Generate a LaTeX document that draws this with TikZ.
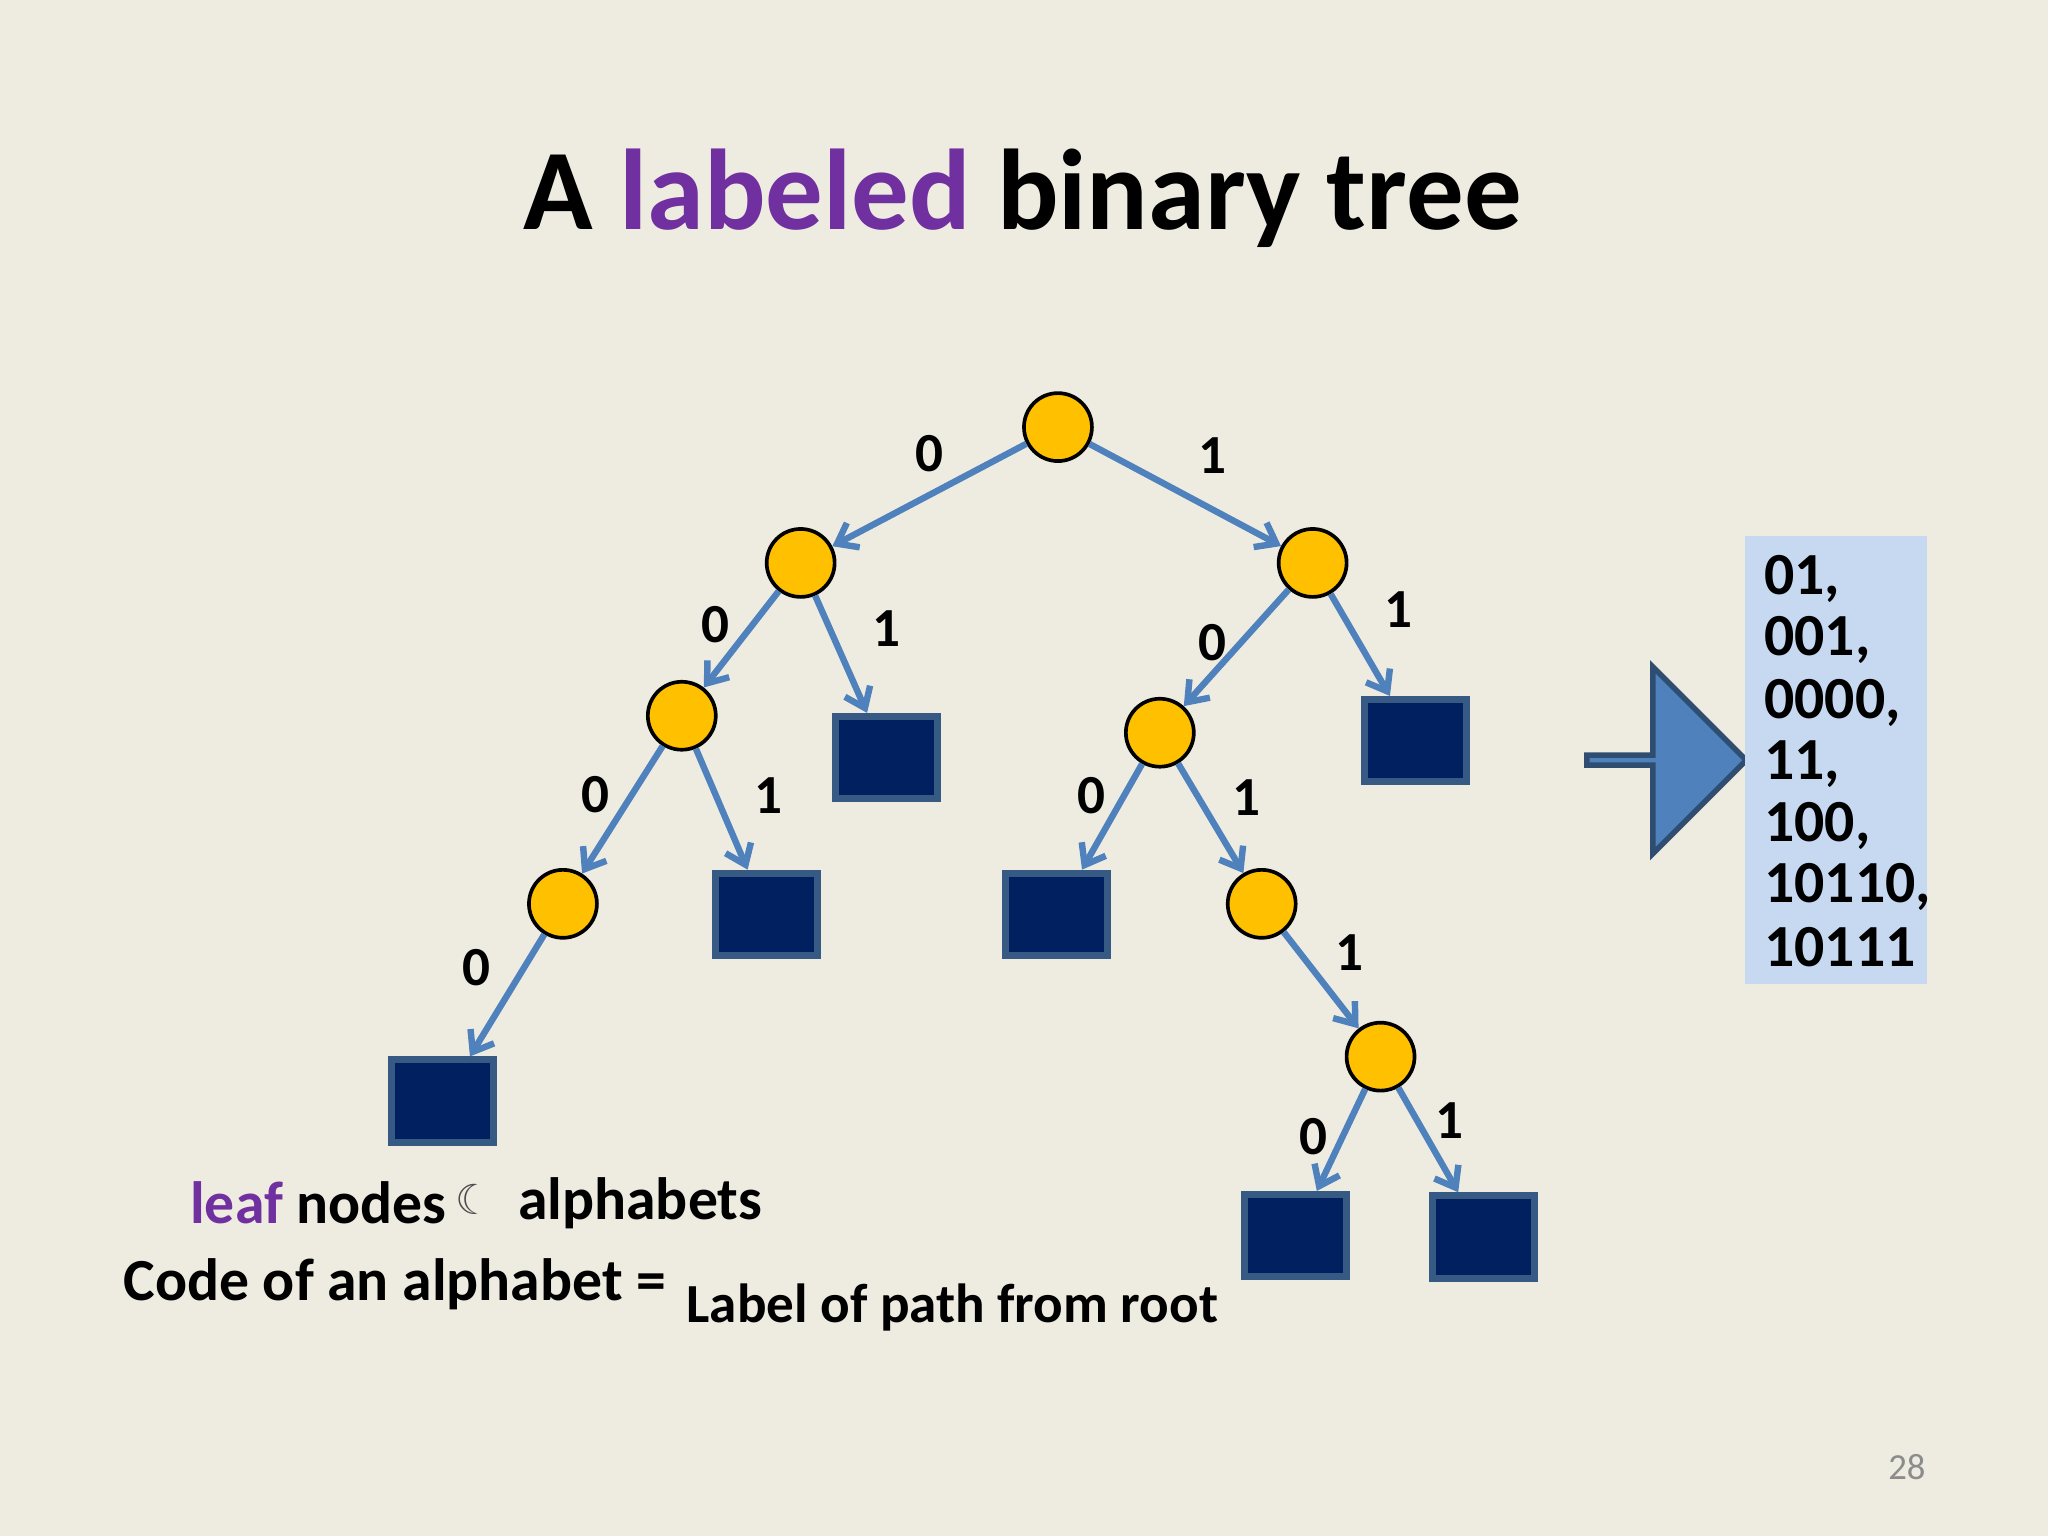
\documentclass[tikz,border=0pt]{standalone}
\usepackage{fontspec}
\setmainfont{Carlito}
\newfontfamily\symf{DejaVu Sans}
\usetikzlibrary{arrows.meta,shapes.arrows}
\definecolor{bg}{HTML}{EEECE1}
\definecolor{edge}{HTML}{4F81BD}
\definecolor{gold}{HTML}{FFC000}
\definecolor{navy}{HTML}{002060}
\definecolor{purp}{HTML}{7030A0}
\definecolor{boxb}{HTML}{C6D9F1}
\begin{document}
\begin{tikzpicture}[x=0.01cm,y=-0.01cm,
  inner/.style={circle,draw=black,line width=0.8pt,fill=gold,minimum size=0.52cm,inner sep=0pt},
  leaf/.style={rectangle,draw=edge!70!black,line width=1.5pt,fill=navy,minimum width=0.78cm,minimum height=0.63cm,inner sep=0pt},
  e/.style={draw=edge,line width=1.4pt,-{Straight Barb[length=4pt,width=6pt]}},
  lab/.style={font=\bfseries\fontsize{12}{14}\selectfont},
  txt/.style={font=\bfseries\fontsize{13}{16}\selectfont,anchor=west,inner sep=0pt}]
\fill[bg] (0,0) rectangle (1568,1176);
\useasboundingbox (0,0) rectangle (1568,1176);
\node[font=\bfseries\fontsize{25}{30}\selectfont] (title) at (783,152) {A \textcolor{purp}{labeled} binary tree};
\node[inner] (r) at (810,327) {};
\node[inner] (a) at (613,431) {};
\node[inner] (b) at (1005,431) {};
\node[inner] (aa) at (522,548) {};
\node[leaf] (ab) at (679,580) {};
\node[inner] (ba) at (888,561) {};
\node[leaf] (bb) at (1084,567) {};
\node[inner] (aaa) at (431,692) {};
\node[leaf] (aab) at (587,700) {};
\node[leaf] (baa) at (809,700) {};
\node[inner] (bab) at (966,692) {};
\node[leaf] (aaaa) at (339,843) {};
\node[inner] (babb) at (1057,809) {};
\node[leaf] (x0) at (992,946) {};
\node[leaf] (x1) at (1136,947) {};
\draw[e] (r) -- (a); \draw[e] (r) -- (b);
\draw[e] (a) -- (aa); \draw[e] (a) -- (ab);
\draw[e] (b) -- (ba); \draw[e] (b) -- (bb);
\draw[e] (aa) -- (aaa); \draw[e] (aa) -- (aab);
\draw[e] (ba) -- (baa); \draw[e] (ba) -- (bab);
\draw[e] (aaa) -- (aaaa);
\draw[e] (bab) -- (babb);
\draw[e] (babb) -- (x0); \draw[e] (babb) -- (x1);
\node[lab] (l1) at (712,347) {0}; \node[lab] (l2) at (928,349) {1};
\node[lab] (l3) at (548,478) {0}; \node[lab] (l4) at (679,481) {1};
\node[lab] (l5) at (928,492) {0}; \node[lab] (l6) at (1071,467) {1};
\node[lab] (l7) at (456,608) {0}; \node[lab] (l8) at (588,609) {1};
\node[lab] (l9) at (836,609) {0}; \node[lab] (l10) at (954,611) {1};
\node[lab] (l11) at (365,741) {0}; \node[lab] (l12) at (1033,729) {1};
\node[lab] (l13) at (1006,870) {0}; \node[lab] (l14) at (1110,858) {1};
\node[single arrow,draw=edge!60!black,line width=1.2pt,fill=edge,minimum width=1.43cm,single arrow head extend=0.37cm,single arrow tip angle=90,minimum height=1.22cm,inner sep=0pt] (arr) at (1274,582) {};
\fill[boxb] (1336,410) rectangle (1475,753);
\node[txt] (c1) at (1350,443) {01,};
\node[txt] (c2) at (1350,490) {001,};
\node[txt] (c3) at (1350,538) {0000,};
\node[txt] (c4) at (1350,585) {11,};
\node[txt] (c5) at (1350,632) {100,};
\node[txt] (c6) at (1350,679) {10110,};
\node[txt] (c7) at (1350,725) {10111};
\node[txt] (t1) at (145,921) {\textcolor{purp}{leaf} nodes};
\node[font=\symf\fontsize{9}{10}\selectfont,text=black!70] (sym) at (363,918) {☾};
\node[txt] (t2) at (396,921) {alphabets};
\node[txt] (t3) at (94,983) {Code of an alphabet =};
\node[txt,font=\bfseries\fontsize{12}{14}\selectfont] (t4) at (525,1001) {Label of path from root};
\node[font=\fontsize{8}{10}\selectfont,text=black!45] (pg) at (1460,1123) {28};
\end{tikzpicture}
\end{document}
